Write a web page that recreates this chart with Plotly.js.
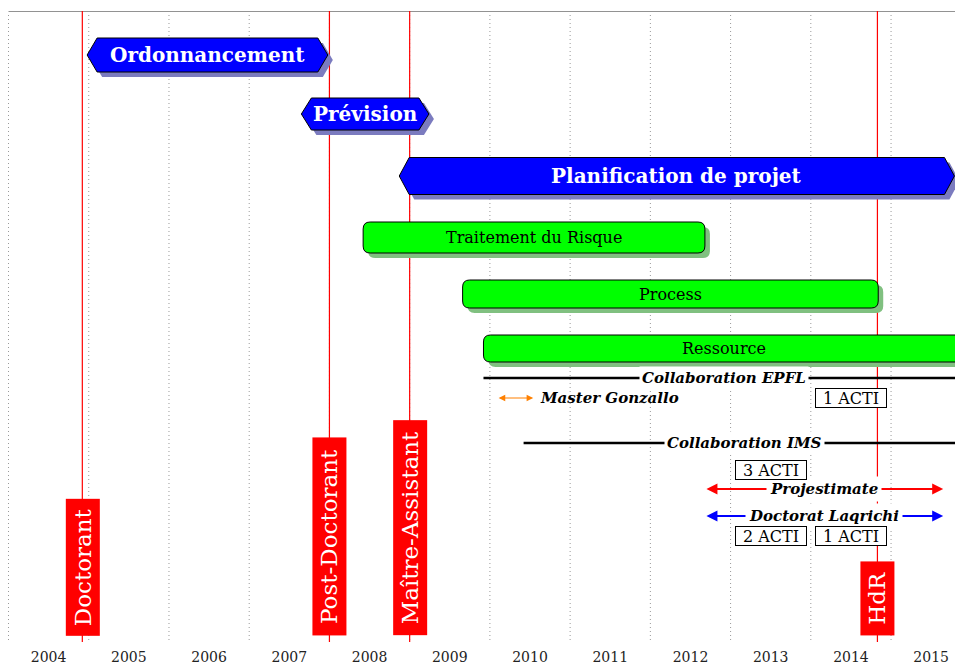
<!DOCTYPE html>
<html><head><meta charset="utf-8">
<script src="https://cdn.plot.ly/plotly-3.0.1.min.js"></script>
<style>html,body{margin:0;padding:0;background:#fff}</style>
</head><body>
<div id="chart" style="width:955px;height:666px"></div>
<script>
// ---------- data ----------
const years = [2004,2005,2006,2007,2008,2009,2010,2011,2012,2013,2014,2015];
const yearLabels = years.map(String);

// research themes (blue)
const phaseNames = ['Ordonnancement','Prévision','Planification de projet'];
const phaseStart = [2004.98, 2007.65, 2008.87];
const phaseEnd   = [2007.98, 2009.24, 2015.79];
const phaseRow   = [4.4, 10.3, 16.5];

// sub-topics (green)
const topicNames = ['Traitement du Risque','Process','Ressource'];
const topicStart = [2008.42, 2009.66, 2009.92];
const topicEnd   = [2012.68, 2014.84, 2015.92];
const topicRow   = [22.65, 28.3, 33.75];

// career milestones (red)
const careerNames = ['Doctorant','Post-Doctorant','Maître-Assistant','HdR'];
const careerDates = [2004.92, 2008.0, 2009.0, 2014.83];
const careerRow   = 62.5;

// collaborations (plain lines)
const collabNames = ['Collaboration EPFL','Collaboration IMS'];
const collabStart = [2009.92, 2010.42];
const collabEnd   = [2015.92, 2015.92];
const collabRow   = [36.7, 43.2];

// projects (double arrows)
const projNames = ['Master Gonzallo','Projestimate','Doctorat Laqrichi'];
const projStart = [2010.09, 2012.68, 2012.68];
const projEnd   = [2010.54, 2015.65, 2015.65];
const projRow   = [38.7, 47.8, 50.5];

// publications
const pubLabels = ['1 ACTI','3 ACTI','2 ACTI','1 ACTI'];
const pubYear   = [2014.5, 2013.5, 2013.5, 2014.5];
const pubRow    = [38.7, 45.85, 52.5, 52.5];

// ---------- styles ----------
const xMin = 2003.894, xMax = 2015.797;
const W = 955, H = 666, mT = 11, mB = 24;
const yMax = (H - mT - mB) / 10;          // 10 px per row unit
const pxX = (xMax - xMin) / W;           // years per pixel
const pxY = 0.1;                          // row units per pixel
const serif = 'DejaVu Serif';
const phaseHalfH = [17, 16, 18.5];        // px
const topicHalfH = [15.5, 14, 13.5];      // px
const careerBoxLen = [134, 195, 212, 71];
const projColor = ['#ff8000', '#ff0000', '#0000ff'];
const projWidth = [1.2, 2, 2];
const projLabelSide = ['right', 'center', 'center'];

const shapes = [];
const annotations = [];

// dotted year grid
years.forEach(y => shapes.push({type:'line', xref:'x', yref:'y', x0:y, x1:y, y0:0.4, y1:yMax,
  line:{color:'#9a9a9a', width:1, dash:'1px,3px'}}));
// top rule
shapes.push({type:'line', xref:'x', yref:'y', x0:years[0], x1:xMax, y0:0, y1:0,
  line:{color:'#6e6e6e', width:1.5}});
// red career lines
careerDates.forEach(d => shapes.push({type:'line', xref:'x', yref:'y', x0:d, x1:d, y0:0, y1:yMax,
  line:{color:'#ff0000', width:1.2}}));

const sdx = 5 * pxX, sdy = 5 * pxY;
function hexPath(s, e, c, h, t, dx, dy) {
  const p = (x, y) => (x + dx).toFixed(4) + ',' + (y + dy).toFixed(4);
  return 'M' + p(s, c) + 'L' + p(s + t, c - h) + 'L' + p(e - t, c - h) + 'L' + p(e, c) +
         'L' + p(e - t, c + h) + 'L' + p(s + t, c + h) + 'Z';
}
function roundPath(s, e, c, h, rx, ry, dx, dy) {
  const p = (x, y) => (x + dx).toFixed(4) + ',' + (y + dy).toFixed(4);
  const t = c - h, b = c + h;
  return 'M' + p(s + rx, t) + 'L' + p(e - rx, t) + 'Q' + p(e, t) + ' ' + p(e, t + ry) +
         'L' + p(e, b - ry) + 'Q' + p(e, b) + ' ' + p(e - rx, b) +
         'L' + p(s + rx, b) + 'Q' + p(s, b) + ' ' + p(s, b - ry) +
         'L' + p(s, t + ry) + 'Q' + p(s, t) + ' ' + p(s + rx, t) + 'Z';
}

// blue phases
phaseNames.forEach((n, i) => {
  const h = phaseHalfH[i] * pxY, tip = 10 * pxX;
  shapes.push({type:'path', xref:'x', yref:'y', path: hexPath(phaseStart[i], phaseEnd[i], phaseRow[i], h, tip, sdx, sdy),
    fillcolor:'#7b7bbf', line:{width:0}});
  shapes.push({type:'path', xref:'x', yref:'y', path: hexPath(phaseStart[i], phaseEnd[i], phaseRow[i], h, tip, 0, 0),
    fillcolor:'#0000ff', line:{color:'#000', width:1}});
  annotations.push({x:(phaseStart[i] + phaseEnd[i]) / 2, y:phaseRow[i], xref:'x', yref:'y', text:n, showarrow:false,
    font:{family:serif, size:20, color:'#fff', weight:700}});
});

// green topics
topicNames.forEach((n, i) => {
  const h = topicHalfH[i] * pxY, rx = 7 * pxX, ry = 7 * pxY;
  shapes.push({type:'path', xref:'x', yref:'y', path: roundPath(topicStart[i], topicEnd[i], topicRow[i], h, rx, ry, sdx, sdy),
    fillcolor:'#80c080', line:{width:0}});
  shapes.push({type:'path', xref:'x', yref:'y', path: roundPath(topicStart[i], topicEnd[i], topicRow[i], h, rx, ry, 0, 0),
    fillcolor:'#00ff00', line:{color:'#000', width:1}});
  annotations.push({x:(topicStart[i] + topicEnd[i]) / 2, y:topicRow[i], xref:'x', yref:'y', text:n, showarrow:false,
    font:{family:serif, size:16, color:'#000'}});
});

// collaborations
collabNames.forEach((n, i) => {
  shapes.push({type:'line', xref:'x', yref:'y', x0:collabStart[i], x1:collabEnd[i], y0:collabRow[i], y1:collabRow[i],
    line:{color:'#000', width:2.5}});
  annotations.push({x:(collabStart[i] + collabEnd[i]) / 2, y:collabRow[i], xref:'x', yref:'y', text:n, showarrow:false,
    bgcolor:'#fff', borderpad:2,
    font:{family:serif, size:15, color:'#000', weight:700, style:'italic'}});
});

// projects (double arrows)
projNames.forEach((n, i) => {
  annotations.push({x:projEnd[i], y:projRow[i], ax:projStart[i], ay:projRow[i], xref:'x', yref:'y', axref:'x', ayref:'y',
    text:'', showarrow:true, arrowside:'end+start', arrowhead:2, arrowsize:1.1,
    arrowwidth:projWidth[i], arrowcolor:projColor[i], standoff:0, startstandoff:0});
});
projNames.forEach((n, i) => {
  const right = projLabelSide[i] === 'right';
  annotations.push({x: right ? projEnd[i] + 3 * pxX : (projStart[i] + projEnd[i]) / 2, y:projRow[i], xref:'x', yref:'y',
    xanchor: right ? 'left' : 'center', text:n, showarrow:false,
    bgcolor: right ? 'rgba(0,0,0,0)' : '#fff', borderpad:3,
    font:{family:serif, size:15, color:'#000', weight:700, style:'italic'}});
});

// publications
pubLabels.forEach((n, i) => annotations.push({x:pubYear[i], y:pubRow[i], xref:'x', yref:'y', text:n, showarrow:false,
  bgcolor:'#fff', bordercolor:'#000', borderwidth:1, borderpad:0, width:70, height:18,
  font:{family:serif, size:16, color:'#000'}}));

// career labels
careerNames.forEach((n, i) => annotations.push({x:careerDates[i], y:careerRow, xref:'x', yref:'y', text:n, showarrow:false,
  textangle:-90, xanchor:'center', yanchor:'bottom', bgcolor:'#ff0000', borderpad:1,
  width:careerBoxLen[i], height:31,
  font:{family:serif, size:23, color:'#fff'}}));

const layout = {
  width:W, height:H, autosize:false,
  margin:{l:0, r:0, t:mT, b:mB, pad:0},
  paper_bgcolor:'#fff', plot_bgcolor:'#fff',
  showlegend:false,
  xaxis:{range:[xMin, xMax], showgrid:false, zeroline:false, showline:false, ticks:'',
    tickmode:'array', tickvals:years.map(y => y + 0.5), ticktext:yearLabels,
    tickfont:{family:serif, size:14, color:'#222'}, ticklabelstandoff:5, fixedrange:true},
  yaxis:{range:[yMax, 0], visible:false, fixedrange:true},
  shapes:shapes, annotations:annotations
};

Plotly.newPlot('chart', [{x:[], y:[], type:'scatter', hoverinfo:'skip'}], layout, {displayModeBar:false, staticPlot:true});
</script>
</body></html>
